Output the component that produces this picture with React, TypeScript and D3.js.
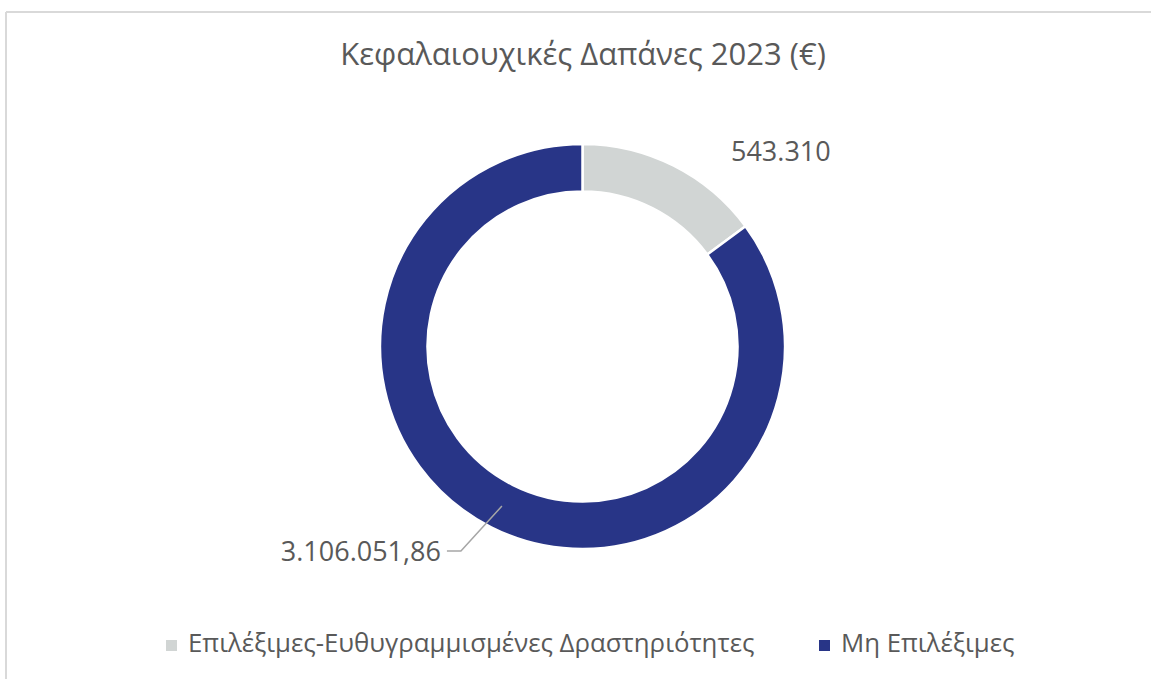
import React from "react";
import * as d3 from "d3";

const categories = ["Επιλέξιμες-Ευθυγραμμισμένες Δραστηριότητες", "Μη Επιλέξιμες"];
const values = [543310, 3106051.86];
const valueLabels = ["543.310", "3.106.051,86"];
const colors = ["#D1D5D4", "#283587"];
const title = "Κεφαλαιουχικές Δαπάνες 2023 (€)";

const W = 1151;
const H = 679;
const FONT = "'Open Sans', 'Noto Sans', sans-serif";
const TEXT = "#595959";

export default function App() {
  const cx = 582.5;
  const cy = 346.5;
  const outerR = 202.5;
  const innerR = 155;

  const pie = d3.pie<number>().sort(null).value((d) => d);
  const arcs = pie(values);
  const arcGen = d3.arc<d3.PieArcDatum<number>>().innerRadius(innerR).outerRadius(outerR);

  const a0 = arcs[0];
  const lab0Angle = (a0.startAngle + a0.endAngle) / 2;
  const lab0R = outerR + 60;
  const lab0x = cx + Math.sin(lab0Angle) * lab0R + 80;
  const lab0y = cy - Math.cos(lab0Angle) * lab0R + 49;

  const a1 = arcs[1];
  const [c1x, c1y] = arcGen.centroid(a1);
  const p1 = [cx + c1x, cy + c1y];
  const p2 = [p1[0] - 41, p1[1] + 45];
  const p3 = [p2[0] - 14, p2[1]];

  return (
    <svg
      width={W}
      height={H}
      style={{ position: "absolute", left: 0, top: 0, display: "block", background: "#fff" }}
      fontFamily={FONT}
    >
      <rect x={0} y={0} width={W} height={H} fill="#fff" />
      <line x1={6} y1={12} x2={W} y2={12} stroke="#D9D9D9" strokeWidth={2} />
      <line x1={6} y1={12} x2={6} y2={H} stroke="#D9D9D9" strokeWidth={2} />

      <text x={583} y={65} textAnchor="middle" fontSize={31} fill={TEXT}>
        {title}
      </text>

      <g transform={`translate(${cx},${cy})`}>
        {arcs.map((a, i) => (
          <path key={i} d={arcGen(a) || ""} fill={colors[i]} stroke="#fff" strokeWidth={2.5} />
        ))}
      </g>

      <text x={lab0x} y={lab0y} textAnchor="middle" fontSize={27} fill={TEXT}>
        {valueLabels[0]}
      </text>

      <polyline
        points={[p1, p2, p3].map((p) => p.join(",")).join(" ")}
        fill="none"
        stroke="#A6A6A6"
        strokeWidth={1.5}
      />
      <text x={p3[0] - 6} y={p3[1] + 10} textAnchor="end" fontSize={27} fill={TEXT}>
        {valueLabels[1]}
      </text>

      <g>
        <rect x={166} y={640} width={11} height={11} fill={colors[0]} />
        <text x={188} y={652} fontSize={25.8} fill={TEXT}>
          {categories[0]}
        </text>
        <rect x={819} y={640} width={11} height={11} fill={colors[1]} />
        <text x={841} y={652} fontSize={25.8} fill={TEXT}>
          {categories[1]}
        </text>
      </g>
    </svg>
  );
}
